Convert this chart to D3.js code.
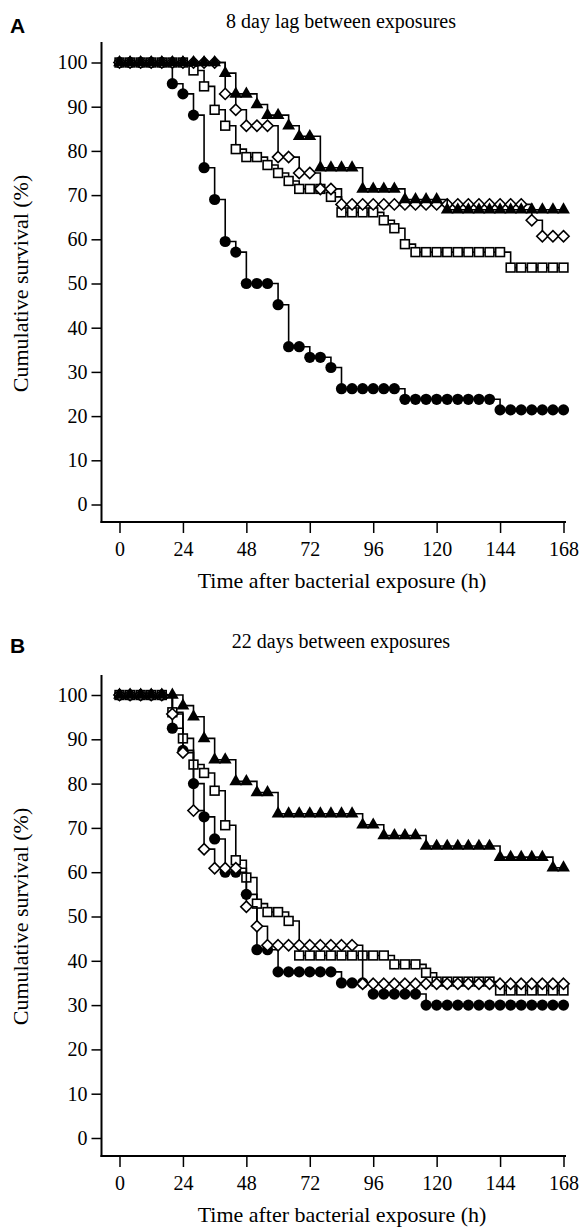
<!DOCTYPE html>
<html><head><meta charset="utf-8">
<script src="https://cdn.jsdelivr.net/npm/d3@7"></script>
<style>body{margin:0;background:#fff} svg{display:block}</style>
</head><body><svg id="c" width="582" height="1227"></svg>
<script>
// ---- data ----
const times = [0,4,8,12,16,20,24,28,32,36,40,44,48,52,56,60,64,68,72,76,80,84,88,92,96,100,104,108,112,116,120,124,128,132,136,140,144,148,152,156,160,164,168];
const xTicks = [0,24,48,72,96,120,144,168];
const yTicks = [0,10,20,30,40,50,60,70,80,90,100];
const panelLetters = ["A","B"];
const panelTitles = ["8 day lag between exposures","22 days between exposures"];
const xLabel = "Time after bacterial exposure (h)";
const yLabel = "Cumulative survival (%)";

// Panel A (8 day lag)
const aCircle   = [100,100,100,100,100,95.2,92.9,88.1,76.2,69.0,59.5,57.1,50.0,50.0,50.0,45.2,35.7,35.7,33.3,33.3,31.0,26.2,26.2,26.2,26.2,26.2,26.2,23.8,23.8,23.8,23.8,23.8,23.8,23.8,23.8,23.8,21.4,21.4,21.4,21.4,21.4,21.4,21.4];
const aSquare   = [100,100,100,100,100,100,100,98.2,94.6,89.3,85.7,80.4,78.6,78.6,76.8,75.0,73.2,71.4,71.4,71.4,69.6,66.1,66.1,66.1,66.1,64.3,62.5,58.9,57.1,57.1,57.1,57.1,57.1,57.1,57.1,57.1,57.1,53.6,53.6,53.6,53.6,53.6,53.6];
const aDiamond  = [100,100,100,100,100,100,100,100,100,100,92.9,89.3,85.7,85.7,85.7,78.6,78.6,75.0,75.0,71.4,71.4,67.9,67.9,67.9,67.9,67.9,67.9,67.9,67.9,67.9,67.9,67.9,67.9,67.9,67.9,67.9,67.9,67.9,67.9,64.3,60.7,60.7,60.7];
const aTriangle = [100,100,100,100,100,100,100,100,100,100,97.6,92.9,92.9,90.5,88.1,88.1,85.7,83.3,83.3,76.2,76.2,76.2,76.2,71.4,71.4,71.4,71.4,69.0,69.0,69.0,69.0,66.7,66.7,66.7,66.7,66.7,66.7,66.7,66.7,66.7,66.7,66.7,66.7];

// Panel B (22 days)
const bCircle   = [100,100,100,100,100,92.5,87.5,80.0,72.5,67.5,60.0,60.0,55.0,42.5,42.5,37.5,37.5,37.5,37.5,37.5,37.5,35.0,35.0,35.0,32.5,32.5,32.5,32.5,32.5,30.0,30.0,30.0,30.0,30.0,30.0,30.0,30.0,30.0,30.0,30.0,30.0,30.0,30.0];
const bSquare   = [100,100,100,100,100,96.1,90.2,84.3,82.4,78.4,70.6,62.7,58.8,52.9,51.0,51.0,49.0,41.2,41.2,41.2,41.2,41.2,41.2,41.2,41.2,41.2,39.2,39.2,39.2,37.3,35.3,35.3,35.3,35.3,35.3,35.3,33.3,33.3,33.3,33.3,33.3,33.3,33.3];
const bDiamond  = [100,100,100,100,100,95.7,87.0,73.9,65.2,60.9,60.9,60.9,52.2,47.8,43.5,43.5,43.5,43.5,43.5,43.5,43.5,43.5,43.5,34.8,34.8,34.8,34.8,34.8,34.8,34.8,34.8,34.8,34.8,34.8,34.8,34.8,34.8,34.8,34.8,34.8,34.8,34.8,34.8];
const bTriangle = [100,100,100,100,100,100,97.6,95.1,90.2,85.4,85.4,80.5,80.5,78.0,78.0,73.2,73.2,73.2,73.2,73.2,73.2,73.2,73.2,70.7,70.7,68.3,68.3,68.3,68.3,65.9,65.9,65.9,65.9,65.9,65.9,65.9,63.4,63.4,63.4,63.4,63.4,61.0,61.0];

const panelSeries = [
  [["circle",aCircle],["square",aSquare],["diamond",aDiamond],["triangle",aTriangle]],
  [["circle",bCircle],["square",bSquare],["diamond",bDiamond],["triangle",bTriangle]]
];

// ---- layout ----
const layouts = [
  {y100:62.5, y0:504.5, axisY:522, top:42, titleY:28, letterY:33},
  {y100:695, y0:1138, axisY:1156, top:675, titleY:648, letterY:653}
];
const serif = "'Liberation Serif','Times New Roman',Times,serif";
const sans = "'Liberation Sans',Arial,Helvetica,sans-serif";
const svg = d3.select("#c");
const x = d3.scaleLinear().domain([0,168]).range([119.5,563.5]);
const axisX0 = 101.5, axisX1 = 566;

const markers = {
  circle: g => g.append("circle").attr("r",5.6).attr("fill","#000"),
  square: g => g.append("rect").attr("x",-4.4).attr("y",-4.4).attr("width",8.8).attr("height",8.8).attr("fill","#fff").attr("stroke","#000").attr("stroke-width",1.6),
  diamond: g => g.append("path").attr("d","M0,-5.6L5.6,0L0,5.6L-5.6,0Z").attr("fill","#fff").attr("stroke","#000").attr("stroke-width",1.6),
  triangle: g => g.append("path").attr("d","M0,-7.4L6.4,3.8L-6.4,3.8Z").attr("fill","#000")
};

layouts.forEach((L,pi) => {
  const y = d3.scaleLinear().domain([0,100]).range([L.y0,L.y100]);
  const g = svg.append("g");

  g.append("text").attr("x",10).attr("y",L.letterY).attr("font-family",sans).attr("font-weight","bold").attr("font-size",21).text(panelLetters[pi]);
  g.append("text").attr("x",341).attr("y",L.titleY).attr("text-anchor","middle").attr("font-family",serif).attr("font-size",20).text(panelTitles[pi]);

  // axes lines
  g.append("line").attr("x1",axisX0).attr("x2",axisX0).attr("y1",L.top).attr("y2",L.axisY+1).attr("stroke","#000").attr("stroke-width",2);
  g.append("line").attr("x1",axisX0-1).attr("x2",axisX1).attr("y1",L.axisY).attr("y2",L.axisY).attr("stroke","#000").attr("stroke-width",2);

  const ya = g.append("g").attr("transform",`translate(${axisX0},0)`)
    .call(d3.axisLeft(y).tickValues(yTicks).tickSize(10).tickPadding(4).tickSizeOuter(0));
  ya.select(".domain").remove();
  ya.selectAll("text").attr("font-family",serif).attr("font-size",20).attr("fill","#000");
  ya.selectAll("line").attr("stroke-width",1.5);

  const xa = g.append("g").attr("transform",`translate(0,${L.axisY})`)
    .call(d3.axisBottom(x).tickValues(xTicks).tickSize(11).tickPadding(9).tickSizeOuter(0));
  xa.select(".domain").remove();
  xa.selectAll("text").attr("font-family",serif).attr("font-size",20).attr("fill","#000");
  xa.selectAll("line").attr("stroke-width",1.5);

  g.append("text").attr("x",342).attr("y",L.axisY+66).attr("text-anchor","middle")
    .attr("font-family",serif).attr("font-size",22).text(xLabel);
  g.append("text").attr("transform",`translate(28,${(L.y0+L.y100)/2}) rotate(-90)`).attr("text-anchor","middle")
    .attr("font-family",serif).attr("font-size",22).text(yLabel);

  const line = d3.line().x(d=>x(d[0])).y(d=>y(d[1])).curve(d3.curveStepAfter);
  panelSeries[pi].forEach(([shape,vals]) => {
    const pts = times.map((t,i)=>[t,vals[i]]);
    g.append("path").datum(pts).attr("d",line).attr("fill","none").attr("stroke","#000").attr("stroke-width",1.6);
    const mg = g.append("g");
    pts.forEach(p => {
      const m = mg.append("g").attr("transform",`translate(${x(p[0])},${y(p[1])})`);
      markers[shape](m);
    });
  });
});
</script></body></html>
